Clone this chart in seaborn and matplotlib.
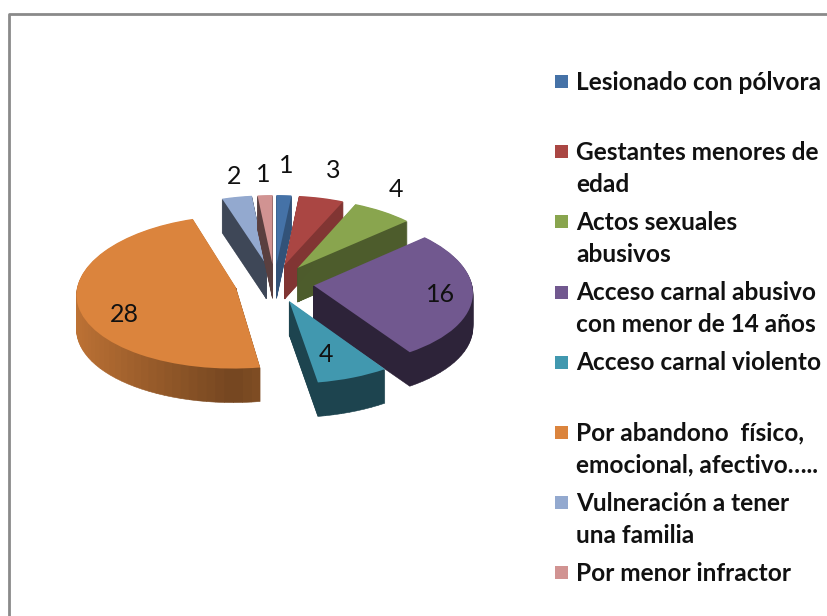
import numpy as np
import matplotlib
matplotlib.use("Agg")
import matplotlib.pyplot as plt
import seaborn as sns
from matplotlib.lines import Line2D
from matplotlib.patches import Rectangle
from matplotlib.transforms import Affine2D, Transform

categorias = [
    "Lesionado con pólvora",
    "Gestantes menores de\nedad",
    "Actos sexuales\nabusivos",
    "Acceso carnal abusivo\ncon menor de 14 años",
    "Acceso carnal violento",
    "Por abandono  físico,\nemocional, afectivo…..",
    "Vulneración a tener\nuna familia",
    "Por menor infractor",
]
valores = [1, 3, 4, 16, 4, 28, 2, 1]
colores = ["#4572a7", "#aa4643", "#89a54e", "#71588f", "#4198af", "#db843d", "#93a9cf", "#d19392"]

# how dark the side of each slice is (left end, right end)
lado_izq = [0.72, 0.76, 0.56, 0.40, 0.45, 0.87, 0.42, 0.43]
lado_der = [0.72, 0.76, 0.56, 0.40, 0.45, 0.53, 0.42, 0.43]
# back to front
orden = [6, 7, 0, 1, 2, 3, 5, 4]
# pixel spots of the value labels
pos_valores = [(286, 166), (333, 170), (396, 189), (441, 295), (326, 355), (124, 315), (234, 176), (263, 174)]

W, H = 827, 616
cx, cy = 274.5, 283
rx = 158
prof = 34
expl = 0.25


class Perspectiva(Transform):
    # tilted view: the back of the pie is narrower and flatter than the front
    input_dims = 2
    output_dims = 2

    def transform_non_affine(self, values):
        x, y = values[:, 0], values[:, 1]
        return np.column_stack([x * (1 - 0.08 * y), 76 * y - 4.5 * y ** 2])


sns.set_theme(style="white")
plt.rcParams["font.family"] = ["Lato", "DejaVu Sans"]
paleta = sns.color_palette(colores)

fig = plt.figure(figsize=(W / 100, H / 100), dpi=100, facecolor="white")
ax = fig.add_axes([0, 0, 1, 1])

total = sum(valores)
inicio = np.cumsum([0] + valores[:-1]) / total * 360

for i, v in enumerate(valores):
    ang = v / total * 360
    medio = np.radians(inicio[i] + ang / 2)
    x0 = expl * np.sin(medio)
    y0 = expl * np.cos(medio)
    z = (orden.index(i) + 1) * 10

    # side of the slice: stacked copies going up to the top face
    n = int(np.ceil(ang / 3))
    bandas = [v / total / n] * n
    centros = inicio[i] + (np.arange(n) + 0.5) * ang / n
    tonos = []
    for c in centros:
        t = abs(np.sin(np.radians(c)))
        f = lado_der[i] + (lado_izq[i] - lado_der[i]) * t
        tonos.append(tuple(np.array(paleta[i]) * f))
    for k in range(prof, 0, -1):
        w, _ = ax.pie(bandas, colors=tonos, startangle=90 - inicio[i], counterclock=False, normalize=False,
                      center=(x0, y0), radius=1)
        for p, t in zip(w, tonos):
            p.set_zorder(z)
            p.set_edgecolor(t)
            p.set_linewidth(0.4)
            p.set_transform(Perspectiva() + Affine2D().translate(0, -k) + ax.transData)

    # top face
    w, _ = ax.pie([v / total], colors=[paleta[i]], startangle=90 - inicio[i], counterclock=False, normalize=False,
                  center=(x0, y0), radius=1)
    w[0].set_zorder(z + 1)
    w[0].set_linewidth(0)
    w[0].set_transform(Perspectiva() + ax.transData)

ax.set_aspect("auto")
ax.set_xlim(-cx / rx, (W - cx) / rx)
ax.set_ylim(-(H - cy), cy)
ax.axis("off")

for v, (px, py) in zip(valores, pos_valores):
    fig.text(px / W, 1 - py / H, str(v), fontsize=18, color="#111111", ha="center", va="center", zorder=50)

# legend, one row every 70 px, second line 32 px below
for i, nombre in enumerate(categorias):
    y = 82 + i * 70.2
    fig.add_artist(Rectangle((555 / W, 1 - (y + 6) / H), 13 / W, 13 / H, transform=fig.transFigure,
                             facecolor=paleta[i], edgecolor="none"))
    for j, linea in enumerate(nombre.split("\n")):
        fig.text(576 / W, 1 - (y + j * 32) / H, linea, fontsize=17.6, fontweight="bold", color="#111111",
                 ha="left", va="center")

# frame of the chart, cut by the crop on two sides
fig.add_artist(Line2D([9 / W, 9 / W, 1], [0, 1 - 13.5 / H, 1 - 13.5 / H], color="#8a8a8a", lw=2))

fig.savefig("out.png", dpi=100)
